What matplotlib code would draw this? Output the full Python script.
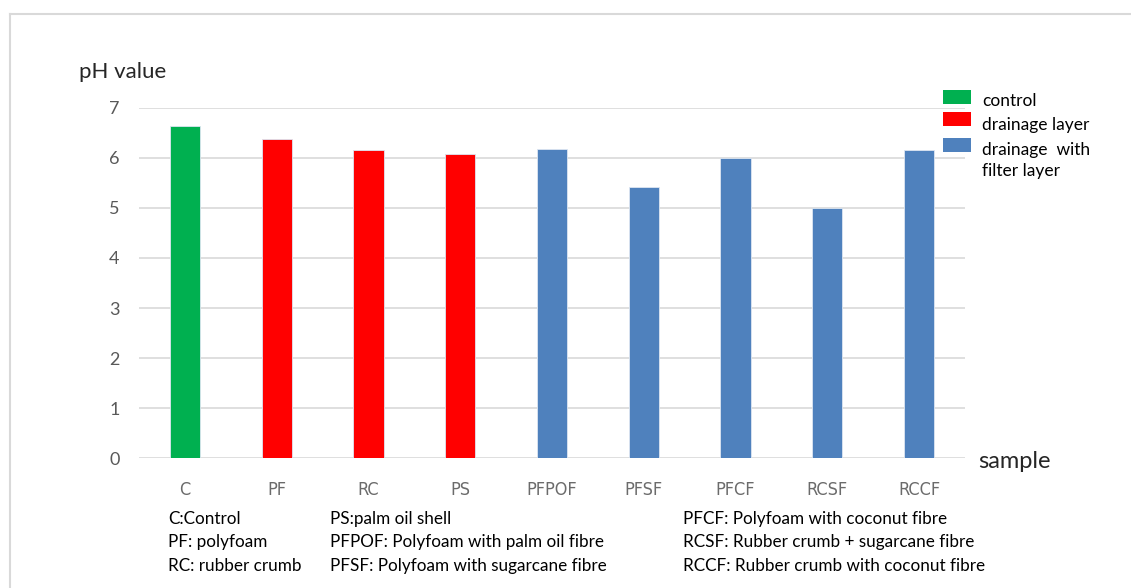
import matplotlib.pyplot as plt
from matplotlib.patches import Rectangle
from matplotlib.lines import Line2D

samples = ['C', 'PF', 'RC', 'PS', 'PFPOF', 'PFSF', 'PFCF', 'RCSF', 'RCCF']
ph_values = [6.63, 6.38, 6.15, 6.08, 6.17, 5.41, 5.99, 5.00, 6.15]
groups = ['control', 'drainage', 'drainage', 'drainage',
          'filter', 'filter', 'filter', 'filter', 'filter']

group_colors = {'control': '#00B050', 'drainage': '#FF0000', 'filter': '#4F81BD'}
legend_labels = ['control', 'drainage layer', 'drainage  with\nfilter layer']

notes_col1 = ['C:Control', 'PF: polyfoam', 'RC: rubber crumb']
notes_col2 = ['PS:palm oil shell', 'PFPOF: Polyfoam with palm oil fibre',
              'PFSF: Polyfoam with sugarcane fibre']
notes_col3 = ['PFCF: Polyfoam with coconut fibre',
              'RCSF: Rubber crumb + sugarcane fibre',
              'RCCF: Rubber crumb with coconut fibre']

W, H = 1131, 588
fig = plt.figure(figsize=(W / 100, H / 100), dpi=100)
fig.patch.set_facecolor('white')

# outer chart frame (only top and left visible)
fig.add_artist(Line2D([10 / W, 10 / W], [0, 1 - 14 / H], color='#D9D9D9', lw=1.5))
fig.add_artist(Line2D([10 / W, 1], [1 - 14 / H, 1 - 14 / H], color='#D9D9D9', lw=1.5))

ax = fig.add_axes([139 / W, 1 - 458.3 / H, (965 - 139) / W, (458.3 - 107.7) / H])
x = range(len(samples))
ax.bar(x, ph_values, width=0.33,
       color=[group_colors[g] for g in groups],
       edgecolor='#DDE6F2', linewidth=0.6, zorder=3)

ax.set_xlim(-0.5, len(samples) - 0.5)
ax.set_ylim(0, 7)
ax.set_yticks(range(8))
ax.grid(axis='y', color='#D9D9D9', linewidth=1.2, zorder=0)
for s in ax.spines.values():
    s.set_visible(False)
ax.tick_params(length=0)
ax.tick_params(axis='y', pad=14, labelsize=13, labelcolor='#595959')
ax.tick_params(axis='x', pad=16, labelsize=13, labelcolor='#6b6b6b')
ax.set_xticks(list(x))
ax.set_xticklabels(samples)
for lab in ax.get_xticklabels():
    lab.set_fontfamily('Liberation Sans Narrow')
    lab.set_fontstretch('condensed')
for lab in ax.get_yticklabels():
    lab.set_fontfamily('Lato')

fig.text(79 / W, 1 - 72 / H, 'pH value', fontsize=16, fontfamily='Lato',
         color='#262626', va='center', ha='left')
fig.text(978 / W, 1 - 461 / H, 'sample', fontsize=17, fontfamily='Lato',
         color='#262626', va='center', ha='left')

# legend drawn by hand to keep the Excel look
leg_y = [97, 119, 145]
text_y = [101, 125, 160.5]
for lbl, g, yb, yt in zip(legend_labels, ['control', 'drainage', 'filter'], leg_y, text_y):
    fig.add_artist(Rectangle((943 / W, 1 - (yb + 7) / H), 28 / W, 14 / H,
                             facecolor=group_colors[g], edgecolor='none'))
    fig.text(982 / W, 1 - yt / H, lbl, fontsize=12.5, fontfamily='Lato',
             color='black', va='center', ha='left', linespacing=1.45)

# abbreviation notes below the chart
rows_y = [519, 542, 566]
for col_x, notes in zip([168, 330, 683], [notes_col1, notes_col2, notes_col3]):
    for yy, t in zip(rows_y, notes):
        fig.text(col_x / W, 1 - yy / H, t, fontsize=12.3, fontfamily='Lato',
                 color='black', va='center', ha='left')

fig.savefig('out.png', dpi=100)
